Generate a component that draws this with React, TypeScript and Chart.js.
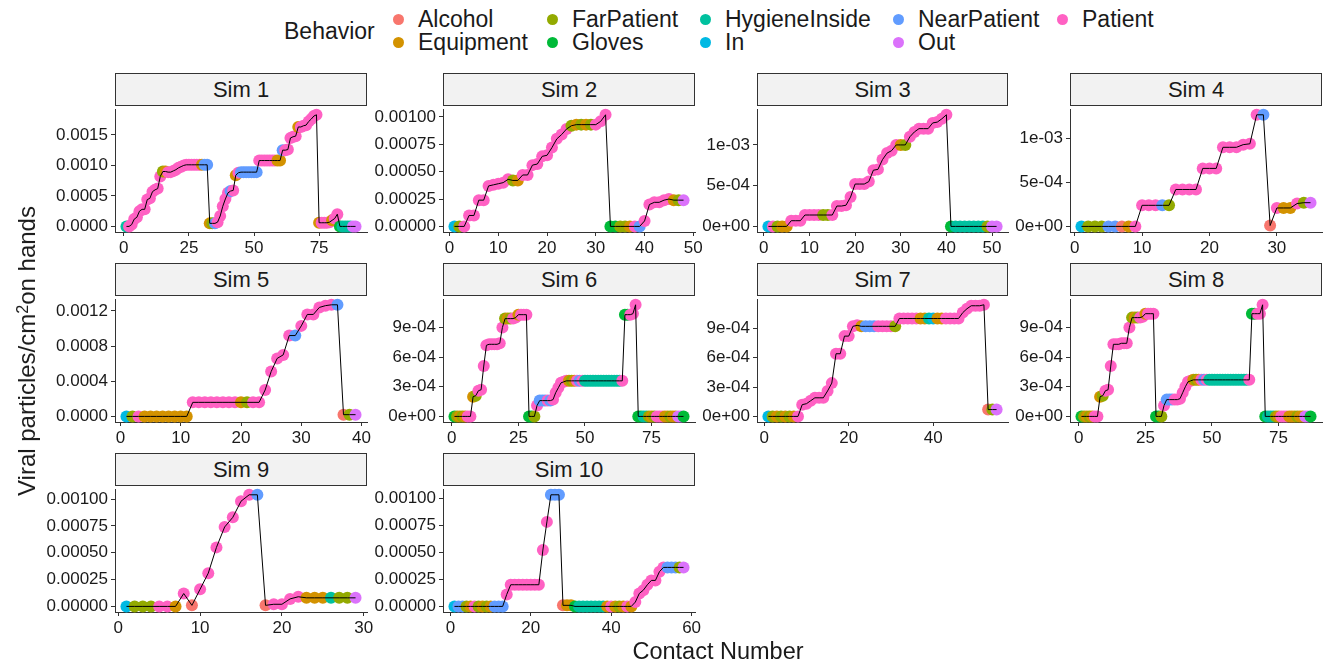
import React, { useEffect, useRef } from "react";
import { Chart, registerables } from "chart.js";
Chart.register(...registerables);

const FONT = "'Liberation Sans', Arial, Helvetica, sans-serif";

// ---------- categories ----------
const behaviorNames = ["Alcohol", "Equipment", "FarPatient", "Gloves", "HygieneInside", "In", "NearPatient", "Out", "Patient"];
const behaviorCodes = ["A", "E", "F", "G", "H", "I", "N", "O", "P"];
const behaviorColors = ["#F8766D", "#D39200", "#93AA00", "#00BA38", "#00C19F", "#00B9E3", "#619CFF", "#DB72FB", "#FF61C3"];

// values are in units of 1e-5 viral particles/cm2
const VALUE_UNIT = 1e-5;

// ---------- Sim 1 ----------
const sim1Values = [0, 0, 3, 12, 15, 25, 28, 28, 44, 46, 57, 60, 62, 82, 90, 90, 89, 89, 91, 93, 96, 98, 100, 101, 101, 101, 101, 101, 101, 101, 101, 101, 5, 5, 5, 7, 17, 33, 45, 55, 58, 59, 84, 88, 89, 89, 89, 89, 89, 89, 89, 108, 108, 108, 108, 108, 108, 108, 108, 108, 125, 125, 126, 145, 147, 148, 163, 163, 165, 166, 172, 176, 181, 183, 6, 6, 6, 6, 7, 10, 13, 20, 0, 0, 0, 0, 0, 0, 0];
const sim1Behaviors = "HPPPPPPPPP PPPPFEPPPP PPPPPPPPPE NNEFNPPPPP NPEPNNNNNN NPPPPPPPEE NPPPPPEPPP PPPPEPPPPE PPGHHHHOO";
const sim1XTicks = [0, 25, 50, 75];
const sim1YTicks = [0, 0.0005, 0.001, 0.0015];
const sim1YTickLabels = ["0.0000", "0.0005", "0.0010", "0.0015"];

// ---------- Sim 2 ----------
const sim2Values = [0, 0, 0, 10, 10, 24, 24, 37, 38, 39, 40, 43, 42, 42, 47, 47, 56, 57, 64, 65, 72, 80, 84, 89, 92, 93, 93, 93, 93, 93, 96, 102, 0, 0, 0, 0, 0, 0, 0, 5, 20, 22, 22, 24, 25, 24, 24, 24];
const sim2Behaviors = "IFPPPPPPPP PPFEPPPPPP PPPPFEFEFP PPGGFFEPNP PPPPPEFO";
const sim2XTicks = [0, 10, 20, 30, 40, 50];
const sim2YTicks = [0, 0.00025, 0.0005, 0.00075, 0.001];
const sim2YTickLabels = ["0.00000", "0.00025", "0.00050", "0.00075", "0.00100"];

// ---------- Sim 3 ----------
const sim3Values = [0, 0, 0, 0, 0, 7, 7, 7, 14, 14, 14, 14, 14, 14, 14, 25, 25, 26, 36, 52, 52, 52, 55, 69, 70, 82, 90, 93, 100, 100, 100, 110, 116, 120, 120, 120, 127, 128, 132, 137, 0, 0, 0, 0, 0, 0, 0, 0, 0, 0, 0];
const sim3Behaviors = "IPFEEPPPPP PPFFPPPPPP PPPPPPPPPE FPPPPPPPPP GHHHHHHHFOO";
const sim3XTicks = [0, 10, 20, 30, 40, 50];
const sim3YTicks = [0, 0.0005, 0.001];
const sim3YTickLabels = ["0e+00", "5e-04", "1e-03"];

// ---------- Sim 4 ----------
const sim4Values = [0, 0, 0, 0, 0, 0, 0, 0, 0, 24, 24, 24, 24, 24, 42, 42, 42, 42, 66, 66, 66, 90, 90, 90, 93, 94, 127, 127, 1, 21, 21, 21, 26, 27, 27];
const sim4Behaviors = "IFFFNNAEPP PPNFPPPPPP PPPPPPPNAP EEPFO";
const sim4XTicks = [0, 10, 20, 30];
const sim4YTicks = [0, 0.0005, 0.001];
const sim4YTickLabels = ["0e+00", "5e-04", "1e-03"];

// ---------- Sim 5 ----------
const sim5Values = [0, 0, 0, 0, 0, 0, 0, 0, 0, 0, 0, 16, 16, 16, 16, 16, 16, 16, 16, 16, 16, 16, 16, 30, 51, 66, 70, 92, 92, 103, 116, 116, 124, 126, 127, 127, 2, 2, 2];
const sim5Behaviors = "IFPEEEEEEE EPPPPPPPPE FPPPPPPPNP PPPPPNAFO";
const sim5XTicks = [0, 10, 20, 30, 40];
const sim5YTicks = [0, 0.0004, 0.0008, 0.0012];
const sim5YTickLabels = ["0.0000", "0.0004", "0.0008", "0.0012"];

// ---------- Sim 6 ----------
const sim6Values = [0, 0, 0, 0, 0, 0, 0, 20, 21, 26, 27, 51, 72, 73, 73, 73, 73, 74, 90, 99, 99, 99, 99, 100, 103, 103, 103, 103, 0, 0, 0, 11, 16, 16, 16, 16, 16, 17, 24, 29, 34, 35, 36, 36, 36, 36, 36, 36, 36, 36, 36, 36, 36, 36, 36, 36, 36, 36, 36, 36, 36, 36, 36, 36, 103, 103, 103, 104, 113, 0, 0, 0, 0, 0, 0, 0, 0, 0, 0, 0, 0, 0, 0, 0, 0, 0, 0];
const sim6Behaviors = "GFEFEPPEFP PPPPPPPPPF EFPPEPPPGG FPNNNPNPPP PPPEFEPNPH HHHHHHHHHH HHHPGGPPPG GHHFEFPPPE EFEEOO";
const sim6XTicks = [0, 25, 50, 75];
const sim6YTicks = [0, 0.0003, 0.0006, 0.0009];
const sim6YTickLabels = ["0e+00", "3e-04", "6e-04", "9e-04"];

// ---------- Sim 7 ----------
const sim7Values = [0, 0, 0, 0, 0, 0, 0, 0, 12, 13, 16, 19, 19, 19, 26, 34, 64, 64, 82, 82, 92, 93, 92, 92, 92, 92, 92, 92, 92, 92, 92, 100, 100, 100, 100, 100, 100, 100, 100, 100, 100, 100, 100, 100, 100, 100, 106, 110, 113, 113, 113, 114, 7, 7, 7];
const sim7Behaviors = "IFEFEFEPPP PPPPPPPPPP PPENNNPPPP FPPPPPEEHI EEPPPPPPPP PPAFO";
const sim7XTicks = [0, 20, 40];
const sim7YTicks = [0, 0.0003, 0.0006, 0.0009];
const sim7YTickLabels = ["0e+00", "3e-04", "6e-04", "9e-04"];

// ---------- Sim 8 ----------
const sim8Values = [0, 0, 0, 0, 0, 0, 0, 20, 21, 26, 27, 51, 73, 73, 73, 74, 74, 74, 90, 100, 100, 100, 100, 101, 104, 104, 104, 104, 0, 0, 0, 11, 17, 17, 17, 17, 17, 18, 24, 30, 35, 36, 37, 37, 37, 37, 37, 37, 37, 37, 37, 37, 37, 37, 37, 37, 37, 37, 37, 37, 37, 37, 37, 37, 104, 104, 104, 104, 113, 0, 0, 0, 0, 0, 0, 0, 0, 0, 0, 0, 0, 0, 0, 0, 0, 0, 0];
const sim8Behaviors = "GFEFEPPEFP PPPPPPPPPF EFPPEPPPGG FPNNNPPPPP PPEFEPNPHH HHHHHHHHHH HHHPGGPPPG HHHFEPPPEE EFEEOO";
const sim8XTicks = [0, 25, 50, 75];
const sim8YTicks = [0, 0.0003, 0.0006, 0.0009];
const sim8YTickLabels = ["0e+00", "3e-04", "6e-04", "9e-04"];

// ---------- Sim 9 ----------
const sim9Values = [0, 0, 0, 0, 0, 0, 0, 12, 1, 16, 31, 55, 74, 83, 98, 104, 104, 1, 2, 2, 7, 9, 8, 8, 8, 8, 8, 8, 8];
const sim9Behaviors = "IFFFPPEPAP PPPPPPNAPP PPEEEHFFO";
const sim9XTicks = [0, 10, 20, 30];
const sim9YTicks = [0, 0.00025, 0.0005, 0.00075, 0.001];
const sim9YTickLabels = ["0.00000", "0.00025", "0.00050", "0.00075", "0.00100"];

// ---------- Sim 10 ----------
const sim10Values = [0, 0, 0, 0, 0, 0, 0, 0, 0, 0, 0, 0, 0, 11, 20, 20, 20, 20, 20, 20, 20, 20, 52, 78, 103, 103, 103, 1, 1, 1, 0, 0, 0, 0, 0, 0, 0, 0, 0, 0, 0, 0, 0, 0, 0, 4, 12, 15, 20, 24, 24, 32, 36, 36, 36, 36, 36, 36];
const sim10Behaviors = "INNFEPFEFE NNNPPPPPPP PPPPNNNAEE GHHHHHHHEP EFEPEPPPPP PPPNNNFO";
const sim10XTicks = [0, 20, 40, 60];
const sim10YTicks = [0, 0.00025, 0.0005, 0.00075, 0.001];
const sim10YTickLabels = ["0.00000", "0.00025", "0.00050", "0.00075", "0.00100"];

// ---------- layout ----------
const COL_LEFT = [115, 443, 757, 1070];
const COL_W = [252, 252, 251, 252];
const ROW_TOP = [106, 296, 486];
const PLOT_H = 126;
const STRIP_H = 33;
const Y_AXIS_W = 80;
const X_AXIS_H = 32;
const PAD_TOP = 10;
const PAD_RIGHT = 20;

const panels = [
  { title: "Sim 1", values: sim1Values, behaviors: sim1Behaviors, xTicks: sim1XTicks, yTicks: sim1YTicks, yLabels: sim1YTickLabels, col: 0, row: 0 },
  { title: "Sim 2", values: sim2Values, behaviors: sim2Behaviors, xTicks: sim2XTicks, yTicks: sim2YTicks, yLabels: sim2YTickLabels, col: 1, row: 0 },
  { title: "Sim 3", values: sim3Values, behaviors: sim3Behaviors, xTicks: sim3XTicks, yTicks: sim3YTicks, yLabels: sim3YTickLabels, col: 2, row: 0 },
  { title: "Sim 4", values: sim4Values, behaviors: sim4Behaviors, xTicks: sim4XTicks, yTicks: sim4YTicks, yLabels: sim4YTickLabels, col: 3, row: 0 },
  { title: "Sim 5", values: sim5Values, behaviors: sim5Behaviors, xTicks: sim5XTicks, yTicks: sim5YTicks, yLabels: sim5YTickLabels, col: 0, row: 1 },
  { title: "Sim 6", values: sim6Values, behaviors: sim6Behaviors, xTicks: sim6XTicks, yTicks: sim6YTicks, yLabels: sim6YTickLabels, col: 1, row: 1 },
  { title: "Sim 7", values: sim7Values, behaviors: sim7Behaviors, xTicks: sim7XTicks, yTicks: sim7YTicks, yLabels: sim7YTickLabels, col: 2, row: 1 },
  { title: "Sim 8", values: sim8Values, behaviors: sim8Behaviors, xTicks: sim8XTicks, yTicks: sim8YTicks, yLabels: sim8YTickLabels, col: 3, row: 1 },
  { title: "Sim 9", values: sim9Values, behaviors: sim9Behaviors, xTicks: sim9XTicks, yTicks: sim9YTicks, yLabels: sim9YTickLabels, col: 0, row: 2 },
  { title: "Sim 10", values: sim10Values, behaviors: sim10Behaviors, xTicks: sim10XTicks, yTicks: sim10YTicks, yLabels: sim10YTickLabels, col: 1, row: 2 },
];

type PanelSpec = (typeof panels)[number];

function Panel({ spec }: { spec: PanelSpec }) {
  const ref = useRef<HTMLCanvasElement>(null);
  const plotLeft = COL_LEFT[spec.col];
  const plotW = COL_W[spec.col];
  const plotTop = ROW_TOP[spec.row];
  const cw = Y_AXIS_W + plotW + PAD_RIGHT;
  const ch = PAD_TOP + PLOT_H + X_AXIS_H;

  useEffect(() => {
    if (!ref.current) return;
    const n = spec.values.length;
    const pts = spec.values.map((v, i) => ({ x: i + 1, y: v * VALUE_UNIT }));
    const codes = spec.behaviors.replace(/\s+/g, "").split("");
    const colors = codes.map((c) => behaviorColors[behaviorCodes.indexOf(c)]);
    const ys = pts.map((p) => p.y);
    const ymin = Math.min(...ys);
    const ymax = Math.max(...ys);
    const yr = ymax - ymin;
    const xr = n - 1;
    const tickFont = { family: FONT, size: 17 };
    const axisColor = "#333333";

    const chart = new Chart(ref.current, {
      type: "scatter",
      data: {
        datasets: [
          {
            data: pts,
            showLine: true,
            borderColor: "#000000",
            borderWidth: 1,
            pointRadius: 0,
            order: 0,
          },
          {
            data: pts,
            showLine: false,
            pointRadius: 6,
            pointBackgroundColor: colors,
            pointBorderWidth: 0,
            order: 1,
            clip: false,
          },
        ],
      } as any,
      options: {
        animation: false,
        responsive: false,
        devicePixelRatio: 1,
        events: [],
        layout: { padding: { top: PAD_TOP, right: PAD_RIGHT, left: 0, bottom: 0 } },
        plugins: { legend: { display: false }, tooltip: { enabled: false }, title: { display: false } },
        scales: {
          x: {
            type: "linear",
            min: 1 - 0.05 * xr,
            max: n + 0.05 * xr,
            afterBuildTicks: (s: any) => {
              s.ticks = spec.xTicks.map((v) => ({ value: v }));
            },
            afterFit: (s: any) => {
              s.height = X_AXIS_H;
            },
            ticks: {
              autoSkip: false,
              maxRotation: 0,
              minRotation: 0,
              padding: 2,
              font: tickFont,
              color: "#1a1a1a",
              callback: (v: any) => String(v),
            },
            grid: { display: true, drawOnChartArea: false, drawTicks: true, tickLength: 4, tickColor: axisColor, lineWidth: 1 },
            border: { display: true, color: axisColor, width: 1 },
          },
          y: {
            type: "linear",
            min: ymin - 0.05 * yr,
            max: ymax + 0.05 * yr,
            afterBuildTicks: (s: any) => {
              s.ticks = spec.yTicks.map((v) => ({ value: v }));
            },
            afterFit: (s: any) => {
              s.width = Y_AXIS_W;
            },
            ticks: {
              autoSkip: false,
              padding: 3,
              font: tickFont,
              color: "#1a1a1a",
              callback: (v: any) => {
                const i = spec.yTicks.indexOf(v);
                return i >= 0 ? spec.yLabels[i] : "";
              },
            },
            grid: { display: true, drawOnChartArea: false, drawTicks: true, tickLength: 4, tickColor: axisColor, lineWidth: 1 },
            border: { display: true, color: axisColor, width: 1 },
          },
        },
      } as any,
    });
    return () => chart.destroy();
  }, []);

  return (
    <>
      <div
        style={{
          position: "absolute",
          left: plotLeft,
          top: plotTop - STRIP_H,
          width: plotW,
          height: STRIP_H,
          boxSizing: "border-box",
          background: "#F2F2F2",
          border: "1px solid #333333",
          display: "flex",
          alignItems: "center",
          justifyContent: "center",
          fontFamily: FONT,
          fontSize: 22,
          color: "#1a1a1a",
        }}
      >
        {spec.title}
      </div>
      <canvas
        ref={ref}
        width={cw}
        height={ch}
        style={{ position: "absolute", left: plotLeft - Y_AXIS_W, top: plotTop - PAD_TOP, width: cw, height: ch }}
      />
    </>
  );
}

const legendColumns = [
  ["Alcohol", "Equipment"],
  ["FarPatient", "Gloves"],
  ["HygieneInside", "In"],
  ["NearPatient", "Out"],
  ["Patient"],
];
const LEGEND_DOT_X = [398, 552, 705, 898, 1062];
const LEGEND_TEXT_X = [418, 572, 725, 918, 1082];
const LEGEND_ROW_Y = [19, 42];

export default function App() {
  useEffect(() => {
    document.body.style.margin = "0";
  }, []);
  return (
    <div style={{ position: "fixed", left: 0, top: 0, width: 1327, height: 665, background: "#ffffff", overflow: "hidden", fontFamily: FONT }}>
      {/* legend */}
      <div style={{ position: "absolute", left: 284, top: 31 - 14, fontSize: 23, lineHeight: "28px", color: "#1a1a1a" }}>Behavior</div>
      {legendColumns.map((col, ci) =>
        col.map((name, ri) => {
          const color = behaviorColors[behaviorNames.indexOf(name)];
          const cx = LEGEND_DOT_X[ci];
          const cy = LEGEND_ROW_Y[ri];
          return (
            <React.Fragment key={name}>
              <div style={{ position: "absolute", left: cx - 5.5, top: cy - 5.5, width: 11, height: 11, borderRadius: "50%", background: color }} />
              <div style={{ position: "absolute", left: LEGEND_TEXT_X[ci], top: cy - 14, fontSize: 23, lineHeight: "28px", color: "#1a1a1a", whiteSpace: "nowrap" }}>{name}</div>
            </React.Fragment>
          );
        })
      )}

      {panels.map((p) => (
        <Panel key={p.title} spec={p} />
      ))}

      {/* axis titles */}
      <div style={{ position: "absolute", left: 718, top: 651, transform: "translate(-50%, -50%)", whiteSpace: "nowrap", fontSize: 23.5, lineHeight: "28px", color: "#1a1a1a" }}>
        Contact Number
      </div>
      <div
        style={{
          position: "absolute",
          left: 27,
          top: 351,
          transform: "translate(-50%, -50%) rotate(-90deg)",
          whiteSpace: "nowrap",
          fontSize: 24,
          lineHeight: "28px",
          color: "#1a1a1a",
        }}
      >
        Viral particles/cm<sup style={{ fontSize: 16, verticalAlign: "7px", lineHeight: 0 }}>2</sup>on hands
      </div>
    </div>
  );
}
